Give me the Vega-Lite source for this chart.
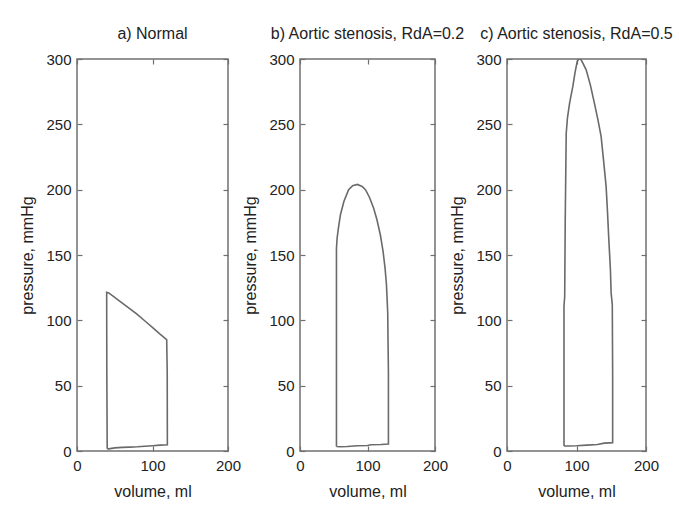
{
  "$schema": "https://vega.github.io/schema/vega-lite/v6.json",
  "padding": {"left": 19, "top": 25, "right": 5, "bottom": 5},
  "background": "white",
  "bounds": "flush",
  "spacing": 72,
  "datasets": {
    "loops": [
      {"panel": "a", "i": 0, "v": 40, "p": 1.8},
      {"panel": "a", "i": 1, "v": 39.5, "p": 60},
      {"panel": "a", "i": 2, "v": 39.3, "p": 121.4},
      {"panel": "a", "i": 3, "v": 42, "p": 121},
      {"panel": "a", "i": 4, "v": 50, "p": 117.5},
      {"panel": "a", "i": 5, "v": 56.9, "p": 114.5},
      {"panel": "a", "i": 6, "v": 68, "p": 109.8},
      {"panel": "a", "i": 7, "v": 79, "p": 104.9},
      {"panel": "a", "i": 8, "v": 90, "p": 99.5},
      {"panel": "a", "i": 9, "v": 101, "p": 94.1},
      {"panel": "a", "i": 10, "v": 110, "p": 89.5},
      {"panel": "a", "i": 11, "v": 118.8, "p": 85.2},
      {"panel": "a", "i": 12, "v": 119.5, "p": 60},
      {"panel": "a", "i": 13, "v": 119.7, "p": 4.8},
      {"panel": "a", "i": 14, "v": 110, "p": 4.5},
      {"panel": "a", "i": 15, "v": 100, "p": 4},
      {"panel": "a", "i": 16, "v": 90, "p": 3.6},
      {"panel": "a", "i": 17, "v": 80, "p": 3.2},
      {"panel": "a", "i": 18, "v": 70, "p": 3},
      {"panel": "a", "i": 19, "v": 60, "p": 2.8},
      {"panel": "a", "i": 20, "v": 50, "p": 2.4},
      {"panel": "a", "i": 21, "v": 42, "p": 1.6},
      {"panel": "a", "i": 22, "v": 40, "p": 1.8},
      {"panel": "b", "i": 0, "v": 54, "p": 3.5},
      {"panel": "b", "i": 1, "v": 54, "p": 80},
      {"panel": "b", "i": 2, "v": 54, "p": 155},
      {"panel": "b", "i": 3, "v": 55, "p": 163},
      {"panel": "b", "i": 4, "v": 57, "p": 171},
      {"panel": "b", "i": 5, "v": 60, "p": 181},
      {"panel": "b", "i": 6, "v": 65, "p": 191},
      {"panel": "b", "i": 7, "v": 72, "p": 200},
      {"panel": "b", "i": 8, "v": 78, "p": 203},
      {"panel": "b", "i": 9, "v": 85, "p": 204},
      {"panel": "b", "i": 10, "v": 92, "p": 202.5},
      {"panel": "b", "i": 11, "v": 97, "p": 200},
      {"panel": "b", "i": 12, "v": 103, "p": 194},
      {"panel": "b", "i": 13, "v": 109, "p": 186},
      {"panel": "b", "i": 14, "v": 114, "p": 177},
      {"panel": "b", "i": 15, "v": 119, "p": 165.5},
      {"panel": "b", "i": 16, "v": 123, "p": 153},
      {"panel": "b", "i": 17, "v": 126, "p": 140},
      {"panel": "b", "i": 18, "v": 128, "p": 128},
      {"panel": "b", "i": 19, "v": 129, "p": 117},
      {"panel": "b", "i": 20, "v": 130, "p": 105},
      {"panel": "b", "i": 21, "v": 130.3, "p": 89},
      {"panel": "b", "i": 22, "v": 131, "p": 60},
      {"panel": "b", "i": 23, "v": 131, "p": 5.4},
      {"panel": "b", "i": 24, "v": 120, "p": 5},
      {"panel": "b", "i": 25, "v": 105, "p": 4.8},
      {"panel": "b", "i": 26, "v": 100, "p": 4.2},
      {"panel": "b", "i": 27, "v": 85, "p": 4},
      {"panel": "b", "i": 28, "v": 70, "p": 3.5},
      {"panel": "b", "i": 29, "v": 60, "p": 3.3},
      {"panel": "b", "i": 30, "v": 54, "p": 3.5},
      {"panel": "c", "i": 0, "v": 82, "p": 3.8},
      {"panel": "c", "i": 1, "v": 82, "p": 60},
      {"panel": "c", "i": 2, "v": 82, "p": 111},
      {"panel": "c", "i": 3, "v": 83, "p": 118},
      {"panel": "c", "i": 4, "v": 83.8, "p": 177},
      {"panel": "c", "i": 5, "v": 85.2, "p": 243},
      {"panel": "c", "i": 6, "v": 87, "p": 255},
      {"panel": "c", "i": 7, "v": 90, "p": 266},
      {"panel": "c", "i": 8, "v": 94.7, "p": 279},
      {"panel": "c", "i": 9, "v": 98, "p": 290},
      {"panel": "c", "i": 10, "v": 101, "p": 298},
      {"panel": "c", "i": 11, "v": 103, "p": 300},
      {"panel": "c", "i": 12, "v": 106, "p": 300},
      {"panel": "c", "i": 13, "v": 109, "p": 297},
      {"panel": "c", "i": 14, "v": 113.9, "p": 291.7},
      {"panel": "c", "i": 15, "v": 120, "p": 280},
      {"panel": "c", "i": 16, "v": 125.8, "p": 266},
      {"panel": "c", "i": 17, "v": 131, "p": 253},
      {"panel": "c", "i": 18, "v": 135.4, "p": 240.8},
      {"panel": "c", "i": 19, "v": 139, "p": 222},
      {"panel": "c", "i": 20, "v": 142.6, "p": 202.5},
      {"panel": "c", "i": 21, "v": 144.6, "p": 183},
      {"panel": "c", "i": 22, "v": 146.3, "p": 164},
      {"panel": "c", "i": 23, "v": 148.8, "p": 138.7},
      {"panel": "c", "i": 24, "v": 149.8, "p": 121},
      {"panel": "c", "i": 25, "v": 151.5, "p": 112},
      {"panel": "c", "i": 26, "v": 152, "p": 60},
      {"panel": "c", "i": 27, "v": 152, "p": 6.4},
      {"panel": "c", "i": 28, "v": 140, "p": 6},
      {"panel": "c", "i": 29, "v": 130, "p": 5},
      {"panel": "c", "i": 30, "v": 115, "p": 4.5},
      {"panel": "c", "i": 31, "v": 100, "p": 4},
      {"panel": "c", "i": 32, "v": 90, "p": 3.8},
      {"panel": "c", "i": 33, "v": 82, "p": 3.8}
    ]
  },
  "data": {"name": "loops"},
  "config": {
    "font": "Liberation Sans",
    "view": {"stroke": "#707070", "strokeWidth": 1.5},
    "axis": {
      "domain": false,
      "grid": false,
      "tickColor": "#707070",
      "tickWidth": 1.2,
      "tickSize": -5,
      "labelFont": "Liberation Sans",
      "labelFontSize": 15,
      "labelColor": "#222222",
      "labelFlush": false,
      "labelOverlap": false,
      "titleFont": "Liberation Sans",
      "titleFontSize": 16,
      "titleFontWeight": "normal",
      "titleColor": "#222222"
    },
    "title": {"font": "Liberation Sans", "fontSize": 16, "fontWeight": "normal", "color": "#222222", "offset": 10}
  },
  "hconcat": [
    {
      "title": "a) Normal",
      "width": 151,
      "height": 392,
      "transform": [{"filter": "datum.panel === 'a'"}],
      "layer": [
        {
          "mark": {"type": "line", "color": "#6a6a6a", "strokeWidth": 1.6, "clip": true},
          "encoding": {
            "x": {"field": "v", "type": "quantitative", "scale": {"domain": [0, 200], "nice": false}, "axis": {"values": [0, 100, 200], "title": "volume, ml", "labelPadding": 12, "titlePadding": 10}},
            "y": {"field": "p", "type": "quantitative", "scale": {"domain": [0, 300], "nice": false}, "axis": {"values": [0, 50, 100, 150, 200, 250, 300], "title": "pressure, mmHg", "labelPadding": 11, "titlePadding": 10}},
            "order": {"field": "i", "type": "quantitative"}
          }
        },
        {
          "mark": {"type": "line", "strokeOpacity": 0},
          "encoding": {
            "x": {"field": "v", "type": "quantitative", "axis": {"orient": "top", "values": [0, 100, 200], "labels": false, "title": null}},
            "y": {"field": "p", "type": "quantitative", "axis": {"orient": "right", "values": [0, 50, 100, 150, 200, 250, 300], "labels": false, "title": null}},
            "order": {"field": "i", "type": "quantitative"}
          }
        }
      ],
      "resolve": {"axis": {"x": "independent", "y": "independent"}}
    },
    {
      "title": "b) Aortic stenosis, RdA=0.2",
      "width": 135,
      "height": 392,
      "transform": [{"filter": "datum.panel === 'b'"}],
      "layer": [
        {
          "mark": {"type": "line", "color": "#6a6a6a", "strokeWidth": 1.6, "clip": true},
          "encoding": {
            "x": {"field": "v", "type": "quantitative", "scale": {"domain": [0, 200], "nice": false}, "axis": {"values": [0, 100, 200], "title": "volume, ml", "labelPadding": 12, "titlePadding": 10}},
            "y": {"field": "p", "type": "quantitative", "scale": {"domain": [0, 300], "nice": false}, "axis": {"values": [0, 50, 100, 150, 200, 250, 300], "title": "pressure, mmHg", "labelPadding": 11, "titlePadding": 10}},
            "order": {"field": "i", "type": "quantitative"}
          }
        },
        {
          "mark": {"type": "line", "strokeOpacity": 0},
          "encoding": {
            "x": {"field": "v", "type": "quantitative", "axis": {"orient": "top", "values": [0, 100, 200], "labels": false, "title": null}},
            "y": {"field": "p", "type": "quantitative", "axis": {"orient": "right", "values": [0, 50, 100, 150, 200, 250, 300], "labels": false, "title": null}},
            "order": {"field": "i", "type": "quantitative"}
          }
        }
      ],
      "resolve": {"axis": {"x": "independent", "y": "independent"}}
    },
    {
      "title": "c) Aortic stenosis, RdA=0.5",
      "width": 139,
      "height": 392,
      "transform": [{"filter": "datum.panel === 'c'"}],
      "layer": [
        {
          "mark": {"type": "line", "color": "#6a6a6a", "strokeWidth": 1.6, "clip": true},
          "encoding": {
            "x": {"field": "v", "type": "quantitative", "scale": {"domain": [0, 200], "nice": false}, "axis": {"values": [0, 100, 200], "title": "volume, ml", "labelPadding": 12, "titlePadding": 10}},
            "y": {"field": "p", "type": "quantitative", "scale": {"domain": [0, 300], "nice": false}, "axis": {"values": [0, 50, 100, 150, 200, 250, 300], "title": "pressure, mmHg", "labelPadding": 11, "titlePadding": 10}},
            "order": {"field": "i", "type": "quantitative"}
          }
        },
        {
          "mark": {"type": "line", "strokeOpacity": 0},
          "encoding": {
            "x": {"field": "v", "type": "quantitative", "axis": {"orient": "top", "values": [0, 100, 200], "labels": false, "title": null}},
            "y": {"field": "p", "type": "quantitative", "axis": {"orient": "right", "values": [0, 50, 100, 150, 200, 250, 300], "labels": false, "title": null}},
            "order": {"field": "i", "type": "quantitative"}
          }
        }
      ],
      "resolve": {"axis": {"x": "independent", "y": "independent"}}
    }
  ]
}
